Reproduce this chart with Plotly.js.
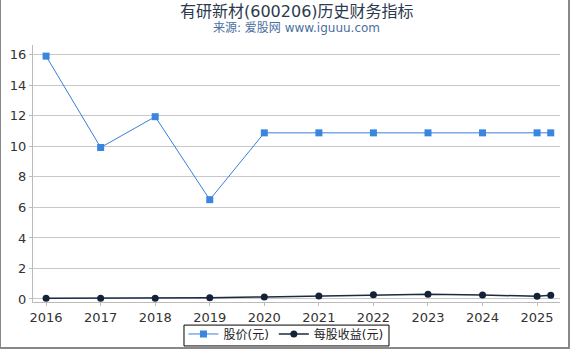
<!DOCTYPE html>
<html>
<head>
<meta charset="utf-8">
<script src="https://cdn.plot.ly/plotly-3.0.1.min.js"></script>
<style>
html,body{margin:0;padding:0;background:#fff;}
#wrap{position:absolute;left:0;top:0;width:567px;height:347px;border-left:1px solid #888;border-right:2px solid #888;border-bottom:2px solid #888;box-sizing:content-box;}
#chart{width:567px;height:347px;}
</style>
</head>
<body>
<div id="wrap"><div id="chart"></div></div>
<script>
var years = [2016, 2017, 2018, 2019, 2020, 2021, 2022, 2023, 2024, 2025, 2025.25];
var tickYears = [2016, 2017, 2018, 2019, 2020, 2021, 2022, 2023, 2024, 2025];
var tickLabels = ['2016', '2017', '2018', '2019', '2020', '2021', '2022', '2023', '2024', '2025'];
var price = [15.92, 9.93, 11.95, 6.51, 10.89, 10.89, 10.89, 10.89, 10.89, 10.89, 10.89];
var eps = [0.04, 0.04, 0.04, 0.08, 0.13, 0.19, 0.28, 0.3, 0.26, 0.17, 0.24];
var titleText = '有研新材(600206)历史财务指标';
var subtitleText = '来源: 爱股网 www.iguuu.com';
var seriesNames = ['股价(元)', '每股收益(元)'];

var font = 'DejaVu Sans, Noto Sans CJK SC, sans-serif';
var traces = [
  {x: years, y: price, name: seriesNames[0], type: 'scatter', mode: 'lines+markers',
   line: {color: '#3a7fd9', width: 1}, marker: {symbol: 'square', size: 7, color: '#3a85e0'}},
  {x: years, y: eps, name: seriesNames[1], type: 'scatter', mode: 'lines+markers',
   line: {color: '#1b2a40', width: 1.5}, marker: {symbol: 'circle', size: 7, color: '#132238'}}
];
var layout = {
  width: 567, height: 347,
  margin: {l: 32, r: 8, t: 45, b: 45, autoexpand: false},
  paper_bgcolor: '#fff', plot_bgcolor: '#fff',
  font: {family: font, size: 13, color: '#333'},
  showlegend: true,
  legend: {orientation: 'h', x: 0.48, xanchor: 'center', y: -0.068, yanchor: 'top',
    borderwidth: 0, bgcolor: 'rgba(255,255,255,0)', font: {size: 12, color: '#222'},
    itemwidth: 30, tracegroupgap: 0},
  shapes: [
    {type: 'rect', xref: 'paper', yref: 'paper', x0: 0.2865, x1: 0.6755, y0: -0.0898, y1: -0.171,
     line: {color: '#000', width: 1}, fillcolor: 'rgba(0,0,0,0)'}
  ],
  xaxis: {range: [2015.76, 2025.42], tickvals: tickYears, ticktext: tickLabels,
    showgrid: false, zeroline: false, showline: true, linecolor: '#bbb', linewidth: 1,
    ticks: 'outside', ticklen: 3, tickcolor: '#bbb', tickfont: {size: 13, color: '#333'}},
  yaxis: {range: [-0.2, 16.65], tickvals: [0,2,4,6,8,10,12,14,16],
    showgrid: true, gridcolor: '#c8c8c8', gridwidth: 1, zeroline: false,
    showline: true, linecolor: '#bbb', linewidth: 1,
    ticks: 'outside', ticklen: 3, tickcolor: '#bbb', tickfont: {size: 13, color: '#333'}},
  annotations: [
    {text: titleText, xref: 'paper', yref: 'paper', x: 0.5, y: 1, yshift: 34, xanchor: 'center', yanchor: 'middle', showarrow: false,
     font: {family: font, size: 16, color: '#2b3a4e'}},
    {text: subtitleText, xref: 'paper', yref: 'paper', x: 0.5, y: 1, yshift: 17, xanchor: 'center', yanchor: 'middle', showarrow: false,
     font: {family: font, size: 12, color: '#4a6fa0'}}
  ]
};
Plotly.newPlot('chart', traces, layout, {displayModeBar: false, staticPlot: true});
</script>
</body>
</html>
